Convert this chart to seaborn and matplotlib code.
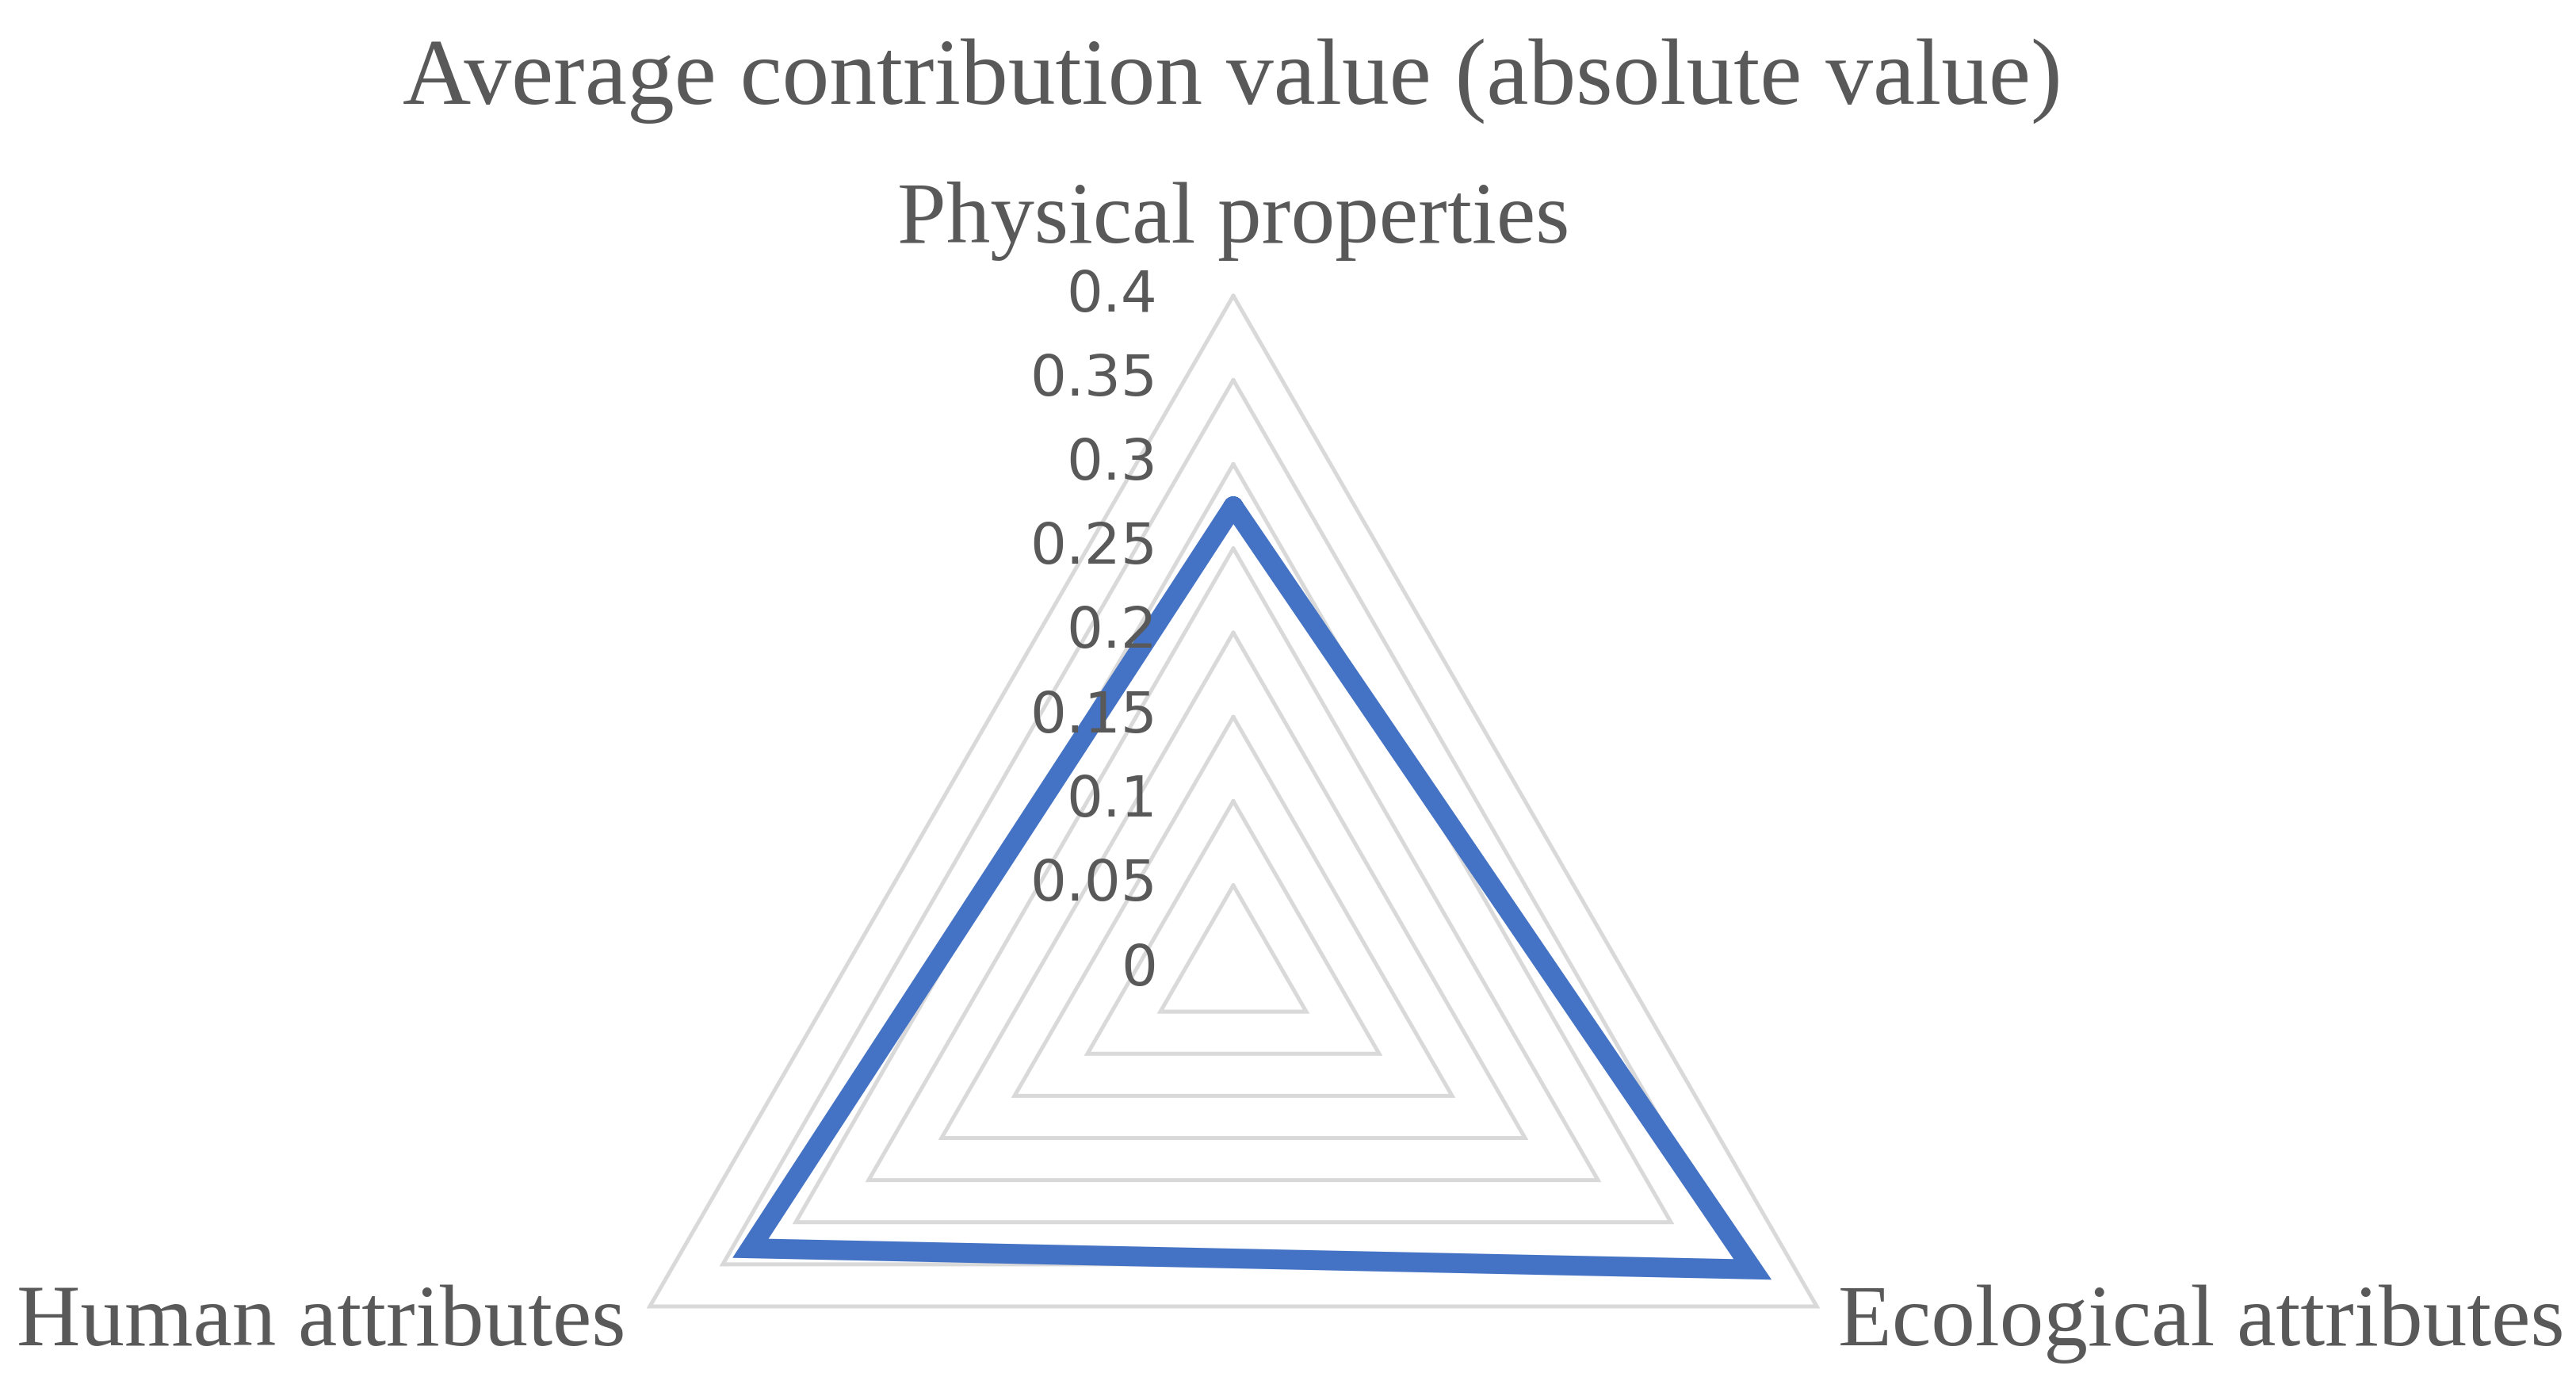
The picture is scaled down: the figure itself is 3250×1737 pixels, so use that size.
import numpy as np
import pandas as pd
import matplotlib
matplotlib.use("Agg")
import matplotlib.pyplot as plt
import seaborn as sns

# ---- data ----
categories = ["Physical properties", "Ecological attributes", "Human attributes"]
values = [0.275, 0.356, 0.331]
ticks = [0, 0.05, 0.1, 0.15, 0.2, 0.25, 0.3, 0.35, 0.4]
tick_labels = ["0", "0.05", "0.1", "0.15", "0.2", "0.25", "0.3", "0.35", "0.4"]
title = "Average contribution value (absolute value)"

sns.set_theme(style="white")
plt.rcParams["font.family"] = ["DejaVu Sans"]

TEXT = "#595959"
GRID = "#D9D9D9"
BLUE = "#4472C4"
SERIF = ["Liberation Serif", "DejaVu Serif"]

W, H, DPI = 3250, 1737, 200
fig = plt.figure(figsize=(W / DPI, H / DPI), dpi=DPI)
fig.patch.set_facecolor("white")

cx, cy, R = 1556, 1223, 850
ax = fig.add_axes([(cx - R) / W, (H - cy - R) / H, 2 * R / W, 2 * R / H],
                  projection="polar")
ax.set_theta_offset(np.pi / 2)
ax.set_theta_direction(-1)
ax.set_ylim(0, max(ticks))
ax.grid(False)
ax.spines["polar"].set_visible(False)
ax.set_xticks([])
ax.set_yticks([])
ax.patch.set_alpha(0)

n = len(categories)
angles = np.arange(n) * 2 * np.pi / n
closed = np.append(angles, 2 * np.pi)

# triangular gridlines
for t in ticks[1:]:
    ax.plot(closed, [t] * (n + 1), color=GRID, lw=1.8,
            solid_joinstyle="miter", zorder=1, clip_on=False)

# data polygon
df = pd.DataFrame({"theta": closed, "value": values + [values[0]]})
sns.lineplot(data=df, x="theta", y="value", sort=False, estimator=None,
             color=BLUE, lw=9, ax=ax, solid_joinstyle="miter", zorder=3,
             clip_on=False)
ax.set_xlabel("")
ax.set_ylabel("")

# radial tick labels
for t, lab in zip(ticks, tick_labels):
    ax.annotate(lab, xy=(0, t), xytext=(-34.5, 0), textcoords="offset points",
                ha="right", va="center", fontsize=26, color=TEXT, zorder=4)

# category labels
ax.annotate(categories[0], xy=(angles[0], max(ticks)), xytext=(0, 24),
            textcoords="offset points", ha="center", va="baseline",
            fontsize=40, color=TEXT, family=SERIF, annotation_clip=False)
ax.annotate(categories[1], xy=(angles[1], max(ticks)), xytext=(9.5, -17.5),
            textcoords="offset points", ha="left", va="baseline",
            fontsize=40, color=TEXT, family=SERIF, annotation_clip=False)
ax.annotate(categories[2], xy=(angles[2], max(ticks)), xytext=(-11, -17.5),
            textcoords="offset points", ha="right", va="baseline",
            fontsize=40, color=TEXT, family=SERIF, annotation_clip=False)

fig.text(1555 / W, 1 - 131 / H, title, ha="center", va="baseline",
         fontsize=43, color=TEXT, family=SERIF)

fig.savefig("out.png", dpi=DPI, facecolor="white")
